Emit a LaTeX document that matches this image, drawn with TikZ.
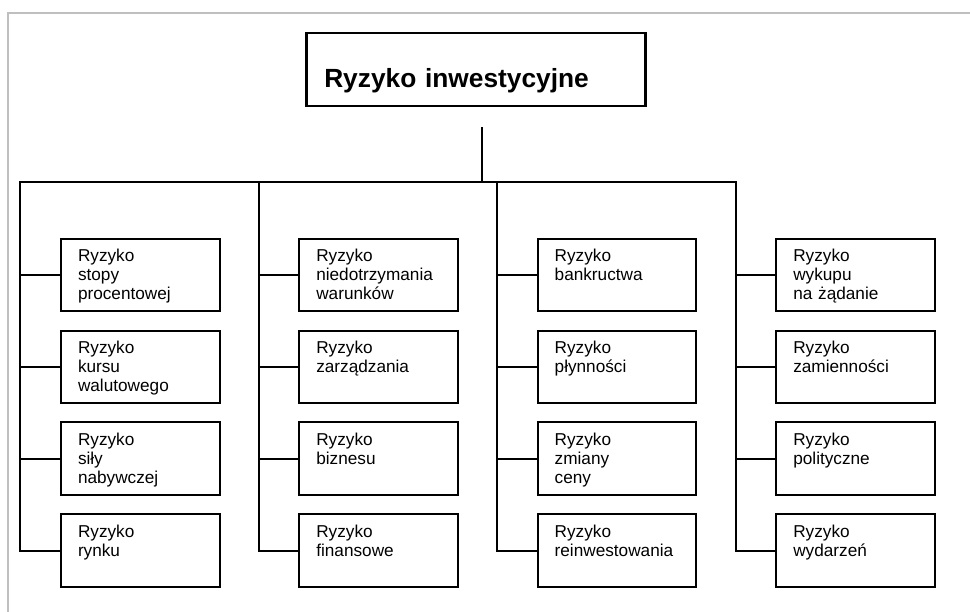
\documentclass[tikz,border=0pt]{standalone}
\usepackage{fontspec}
\setmainfont{Liberation Sans}
\begin{document}
\begin{tikzpicture}[x=1pt,y=-1pt,
  glowny/.style={draw, line width=2.5pt, anchor=north west, inner xsep=17.7pt, inner ysep=0pt,
    text width=303.6pt, align=left, text height=54.7pt, text depth=18.3pt,
    font=\fontsize{26.3}{30}\selectfont\bfseries},
  ryzyko/.style={draw, line width=2pt, anchor=north west, inner xsep=17pt, inner ysep=0pt,
    text width=124.5pt, align=left, text height=23pt, text depth=49.7pt,
    font=\fontsize{17.2}{19}\selectfont},
  linia/.style={line width=2pt}]
  \useasboundingbox (0,0) rectangle (970,612);

  % Ramka
  \draw[gray!50, line width=2pt] (8.2,612) -- (8.2,13.3) -- (970,13.3);

  % Tytul
  \node[glowny] (root) at (305.3,32) {Ryzyko inwestycyjne};

  % Punkty szyny
  \coordinate (s) at (481.7,127.3);
  \coordinate (ka) at (20,182.3);
  \coordinate (kb) at (258.5,182.3);
  \coordinate (kc) at (497.3,182.3);
  \coordinate (kd) at (735.7,182.3);

  % Kolumna 1
  \node[ryzyko] (a1) at (60,237.7) {Ryzyko\\stopy\\procentowej};
  \node[ryzyko] (a2) at (60,329.6) {Ryzyko\\kursu\\walutowego};
  \node[ryzyko] (a3) at (60,421.5) {Ryzyko\\siły\\nabywczej};
  \node[ryzyko] (a4) at (60,513.4) {Ryzyko\\rynku};

  % Kolumna 2
  \node[ryzyko] (b1) at (298.3,237.7) {Ryzyko\\niedotrzymania\\warunków};
  \node[ryzyko] (b2) at (298.3,329.6) {Ryzyko\\zarządzania};
  \node[ryzyko] (b3) at (298.3,421.5) {Ryzyko\\biznesu};
  \node[ryzyko] (b4) at (298.3,513.4) {Ryzyko\\finansowe};

  % Kolumna 3
  \node[ryzyko] (c1) at (536.7,237.7) {Ryzyko\\bankructwa};
  \node[ryzyko] (c2) at (536.7,329.6) {Ryzyko\\płynności};
  \node[ryzyko] (c3) at (536.7,421.5) {Ryzyko\\zmiany\\ceny};
  \node[ryzyko] (c4) at (536.7,513.4) {Ryzyko\\reinwestowania};

  % Kolumna 4
  \node[ryzyko] (d1) at (775.3,237.7) {Ryzyko\\wykupu\\na żądanie};
  \node[ryzyko] (d2) at (775.3,329.6) {Ryzyko\\zamienności};
  \node[ryzyko] (d3) at (775.3,421.5) {Ryzyko\\polityczne};
  \node[ryzyko] (d4) at (775.3,513.4) {Ryzyko\\wydarzeń};

  % Polaczenia
  \draw[linia] (s) -- (s |- ka);
  \draw[linia] (a4.west) -| (ka) -- (kd) |- (d4.west);
  \draw[linia] (kb) |- (b4.west);
  \draw[linia] (kc) |- (c4.west);
  \foreach \k in {a,b,c,d}
    \foreach \i in {1,2,3}
      \draw[linia] (\k\i.west) -- (\k\i.west -| k\k);
\end{tikzpicture}
\end{document}
